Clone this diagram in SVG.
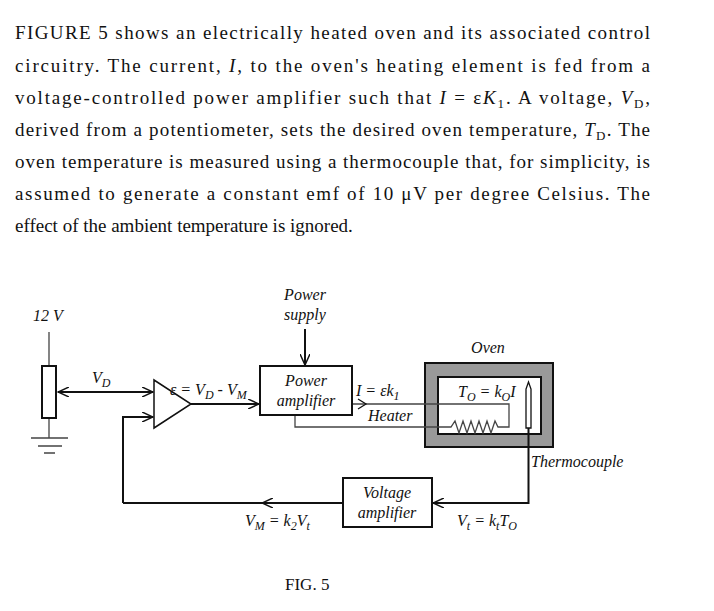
<svg xmlns="http://www.w3.org/2000/svg" width="714" height="611" viewBox="0 0 714 611">
<style>
.p{font-family:"Liberation Serif",serif;font-size:19px;fill:#111}
.l{font-family:"Liberation Serif",serif;font-style:italic;font-size:16px;fill:#111}
.w{fill:none;stroke:#111;stroke-width:2}
.t{fill:none;stroke:#444;stroke-width:1.3}
.b{fill:#fff;stroke:#111;stroke-width:2}
</style>
<defs>
<marker id="a" markerWidth="12" markerHeight="10" refX="11" refY="5" orient="auto-start-reverse" markerUnits="userSpaceOnUse"><path d="M0,0 L11,5 L0,10" fill="none" stroke="#111" stroke-width="1.5"/></marker>
</defs>
<rect width="714" height="611" fill="#fff"/>
<g id="text">
<text class="p" x="15" y="39" textLength="635" lengthAdjust="spacing">FIGURE 5 shows an electrically heated oven and its associated control</text>
<text class="p" x="15" y="72" textLength="635" lengthAdjust="spacing">circuitry.  The current, <tspan font-style="italic">I</tspan>, to the oven's heating element is fed from a</text>
<text class="p" x="15" y="104" textLength="635" lengthAdjust="spacing">voltage-controlled power amplifier such that <tspan font-style="italic">I</tspan>  =  ε<tspan font-style="italic">K</tspan><tspan font-size="13" dy="4">1</tspan><tspan dy="-4">.  A voltage, </tspan><tspan font-style="italic">V</tspan><tspan font-size="13" dy="4">D</tspan><tspan dy="-4">,</tspan></text>
<text class="p" x="15" y="136" textLength="635" lengthAdjust="spacing">derived from a potentiometer, sets the desired oven temperature, <tspan font-style="italic">T</tspan><tspan font-size="13" dy="4">D</tspan><tspan dy="-4">.  The</tspan></text>
<text class="p" x="15" y="168" textLength="635" lengthAdjust="spacing">oven temperature is measured using a thermocouple that, for simplicity, is</text>
<text class="p" x="15" y="200" textLength="635" lengthAdjust="spacing">assumed to generate a constant emf of 10 μV per degree Celsius.  The</text>
<text class="p" x="15" y="232">effect of the ambient temperature is ignored.</text>
</g>
<g id="connectors">
<path class="t" d="M49,332 V366 M49,418 V438 M31,438 H68 M38,446 H62 M44,453 H55"/>
<path class="w" d="M58,392 H153" marker-start="url(#a)" marker-end="url(#a)"/>
<path class="w" d="M123,503 V417 H153" marker-end="url(#a)"/>
<path class="w" d="M191,404 H259" marker-end="url(#a)"/>
<path class="w" d="M305,329 V365" marker-end="url(#a)"/>
<path class="w" d="M343,503 H123"/>
<path class="w" d="M300,503 H262" marker-end="url(#a)"/>
</g>
<g id="pot"><rect class="b" x="42" y="366" width="14" height="52"/></g>
<g id="opamp"><path d="M154,380 L191,404 L154,428 Z" fill="#fff" stroke="#111" stroke-width="1.5"/></g>
<g id="oven">
<rect x="425" y="363" width="128" height="84" fill="#999" stroke="#111" stroke-width="2"/>
<rect x="438" y="377" width="103" height="57" fill="#fff" stroke="#111" stroke-width="2"/>
</g>
<g id="heater">
<path class="t" d="M352,404 H509 V427 H498 L495,421 L491,433 L487,421 L483,433 L479,421 L475,433 L471,421 L467,433 L463,421 L459,433 L455,421 L451,427 H295 V415"/>
<path d="M358,399 L366,404 L358,409" fill="none" stroke="#111" stroke-width="1.3"/>
</g>
<g id="thermocouple">
<path d="M526,428 V389 L528.5,382 L531,389 V428 Z" fill="#fff" stroke="#111" stroke-width="1.3"/>
<path class="w" d="M528.5,428 V503 H433" marker-end="url(#a)"/>
</g>
<g id="poweramp"><rect class="b" x="260" y="366" width="92" height="49"/>
<text class="l" x="306" y="386" text-anchor="middle">Power</text><text class="l" x="306" y="406" text-anchor="middle">amplifier</text></g>
<g id="voltamp"><rect class="b" x="343" y="478" width="89" height="49"/>
<text class="l" x="387" y="498" text-anchor="middle">Voltage</text><text class="l" x="387" y="518" text-anchor="middle">amplifier</text></g>
<g id="labels" class="l">
<text x="33" y="321">12 V</text>
<text x="305" y="300" text-anchor="middle">Power</text>
<text x="305" y="320" text-anchor="middle">supply</text>
<text x="92" y="383">V<tspan font-size="12" dy="4">D</tspan></text>
<text x="170" y="395">ε = V<tspan font-size="12" dy="4">D</tspan><tspan dy="-4"> - V</tspan><tspan font-size="12" dy="4">M</tspan></text>
<text x="488" y="353" text-anchor="middle">Oven</text>
<text x="356" y="396">I = εk<tspan font-size="12" dy="4">1</tspan></text>
<text x="368" y="421">Heater</text>
<text x="458" y="397">T<tspan font-size="12" dy="4">O</tspan><tspan dy="-4"> = k</tspan><tspan font-size="12" dy="4">O</tspan><tspan dy="-4">I</tspan></text>
<text x="531" y="467">Thermocouple</text>
<text x="245" y="526">V<tspan font-size="12" dy="4">M</tspan><tspan dy="-4"> = k</tspan><tspan font-size="12" dy="4">2</tspan><tspan dy="-4">V</tspan><tspan font-size="12" dy="4">t</tspan></text>
<text x="457" y="526">V<tspan font-size="12" dy="4">t</tspan><tspan dy="-4"> = k</tspan><tspan font-size="12" dy="4">t</tspan><tspan dy="-4">T</tspan><tspan font-size="12" dy="4">O</tspan></text>
</g>
<text x="285" y="590" style="font-family:'Liberation Serif',serif;font-size:17px;fill:#111">FIG. 5</text>
</svg>
